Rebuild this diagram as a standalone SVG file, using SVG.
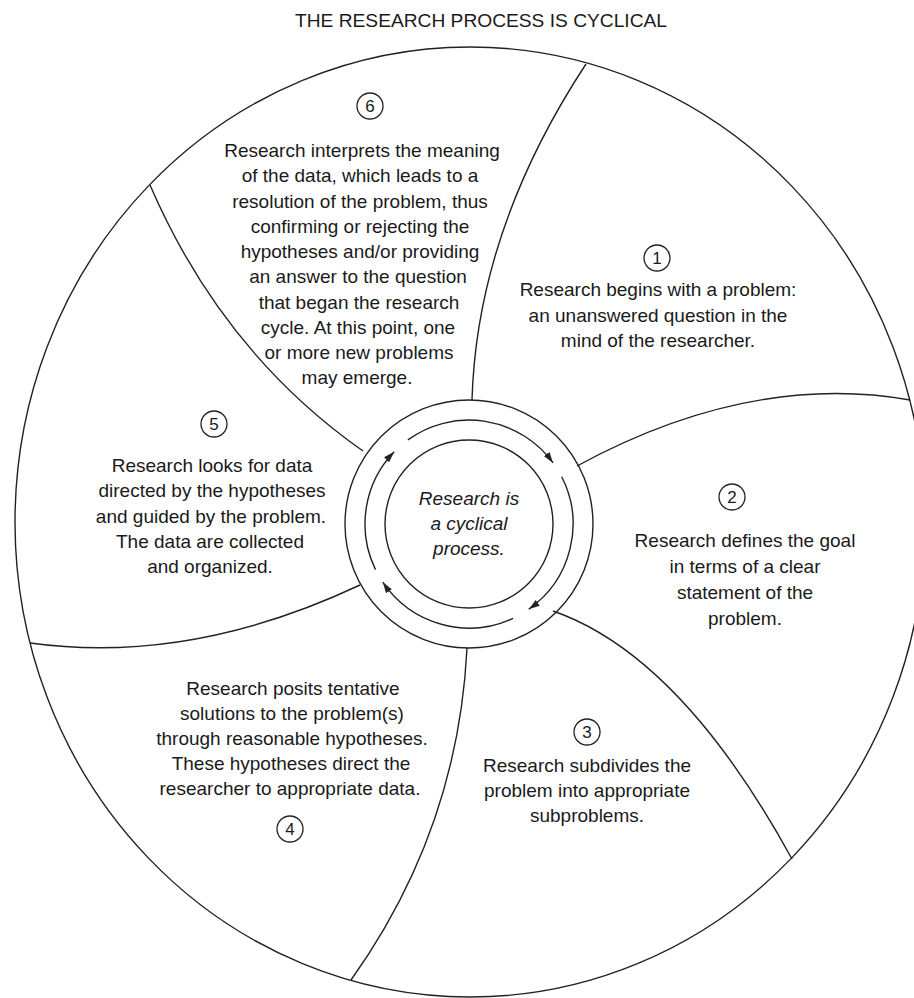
<svg xmlns="http://www.w3.org/2000/svg" width="914" height="998" viewBox="0 0 914 998">
<defs>
<style>
.ln{fill:none;stroke:#222;stroke-width:1.4}
.t{font-family:"Liberation Sans",Arial,sans-serif;font-size:19px;fill:#1a1a1a;text-anchor:middle}
.it{font-style:italic}
.num{font-family:"Liberation Sans",Arial,sans-serif;font-size:17px;fill:#1a1a1a;text-anchor:middle}
.nc{fill:none;stroke:#222;stroke-width:1.3}
</style>
<marker id="ah" markerUnits="userSpaceOnUse" markerWidth="12" markerHeight="8" refX="11" refY="3.5" orient="auto">
<path d="M0,0 L11,3.5 L0,7 z" fill="#222"/>
</marker>
</defs>
<rect width="914" height="998" fill="#fff"/>
<text class="t" x="481" y="27" font-size="22" textLength="372" lengthAdjust="spacingAndGlyphs">THE RESEARCH PROCESS IS CYCLICAL</text>

<g id="outer">
<ellipse class="ln" cx="470" cy="522" rx="455" ry="475"/>
</g>

<g id="connectors">
<path class="ln" d="M472,400 Q477,230 586,64"/>
<path class="ln" d="M577,466 Q750,372 910,400"/>
<path class="ln" d="M553,611 Q680,655 792,859"/>
<path class="ln" d="M467,648 Q458,830 351,980"/>
<path class="ln" d="M360,585 Q190,665 30,643"/>
<path class="ln" d="M363,451 Q222,352 150,185"/>
</g>

<g id="hub">
<circle class="ln" cx="469" cy="524" r="124"/>
<circle class="ln" cx="469" cy="524" r="84"/>
<path class="ln" marker-end="url(#ah)" d="M407.9,439.9 A104,104 0 0 1 553.1,462.9"/>
<path class="ln" marker-end="url(#ah)" d="M561.7,476.8 A104,104 0 0 1 528.7,609.2"/>
<path class="ln" marker-end="url(#ah)" d="M513.0,618.3 A104,104 0 0 1 382.8,582.2"/>
<path class="ln" marker-end="url(#ah)" d="M375.5,569.6 A104,104 0 0 1 394.2,451.8"/>
<text class="t it" x="469" y="505">Research is</text>
<text class="t it" x="469" y="530">a cyclical</text>
<text class="t it" x="469" y="555">process.</text>
</g>

<g id="step1">
<circle class="nc" cx="657" cy="258" r="13"/>
<text class="num" x="657" y="264">1</text>
<text class="t" x="658" y="296">Research begins with a problem:</text>
<text class="t" x="658" y="322">an unanswered question in the</text>
<text class="t" x="658" y="347">mind of the researcher.</text>
</g>

<g id="step2">
<circle class="nc" cx="732" cy="497" r="13"/>
<text class="num" x="732" y="503">2</text>
<text class="t" x="745" y="547">Research defines the goal</text>
<text class="t" x="745" y="573">in terms of a clear</text>
<text class="t" x="745" y="599">statement of the</text>
<text class="t" x="745" y="625">problem.</text>
</g>

<g id="step3">
<circle class="nc" cx="587" cy="732" r="13"/>
<text class="num" x="587" y="738">3</text>
<text class="t" x="587" y="772">Research subdivides the</text>
<text class="t" x="587" y="797">problem into appropriate</text>
<text class="t" x="587" y="822">subproblems.</text>
</g>

<g id="step4">
<text class="t" x="293" y="695">Research posits tentative</text>
<text class="t" x="292" y="720">solutions to the problem(s)</text>
<text class="t" x="292" y="745">through reasonable hypotheses.</text>
<text class="t" x="291" y="770">These hypotheses direct the</text>
<text class="t" x="290" y="795">researcher to appropriate data.</text>
<circle class="nc" cx="290" cy="829" r="13"/>
<text class="num" x="290" y="835">4</text>
</g>

<g id="step5">
<circle class="nc" cx="214" cy="424" r="13"/>
<text class="num" x="214" y="430">5</text>
<text class="t" x="212" y="472">Research looks for data</text>
<text class="t" x="212" y="497">directed by the hypotheses</text>
<text class="t" x="211" y="523">and guided by the problem.</text>
<text class="t" x="210" y="548">The data are collected</text>
<text class="t" x="210" y="573">and organized.</text>
</g>

<g id="step6">
<circle class="nc" cx="370" cy="106" r="13"/>
<text class="num" x="370" y="112">6</text>
<text class="t" x="362" y="157">Research interprets the meaning</text>
<text class="t" x="360" y="182">of the data, which leads to a</text>
<text class="t" x="360" y="208">resolution of the problem, thus</text>
<text class="t" x="360" y="233">confirming or rejecting the</text>
<text class="t" x="360" y="258">hypotheses and/or providing</text>
<text class="t" x="358" y="283">an answer to the question</text>
<text class="t" x="359" y="309">that began the research</text>
<text class="t" x="358" y="334">cycle. At this point, one</text>
<text class="t" x="359" y="359">or more new problems</text>
<text class="t" x="357" y="384">may emerge.</text>
</g>
</svg>
